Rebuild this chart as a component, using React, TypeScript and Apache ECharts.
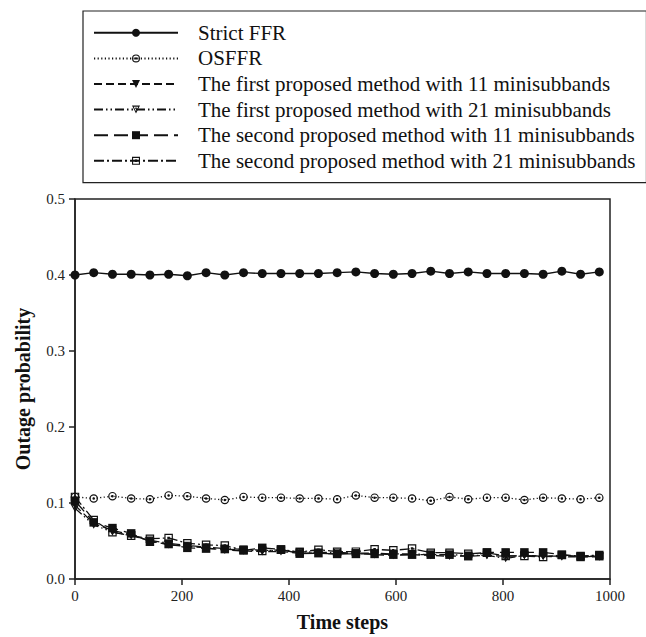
import React, { useEffect, useRef } from "react";
import * as echarts from "echarts";

const timeSteps = [0, 35, 70, 105, 140, 175, 210, 245, 280, 315, 350, 385, 420, 455, 490, 525, 560, 595, 630, 665, 700, 735, 770, 805, 840, 875, 910, 945, 980];

const strictFFR = [0.400, 0.403, 0.401, 0.401, 0.400, 0.401, 0.399, 0.403, 0.400, 0.403, 0.402, 0.402, 0.402, 0.402, 0.403, 0.404, 0.402, 0.401, 0.402, 0.405, 0.402, 0.404, 0.402, 0.402, 0.402, 0.401, 0.405, 0.401, 0.404];
const osffr = [0.108, 0.106, 0.109, 0.106, 0.105, 0.110, 0.109, 0.106, 0.104, 0.108, 0.107, 0.107, 0.106, 0.106, 0.105, 0.110, 0.107, 0.107, 0.106, 0.103, 0.108, 0.105, 0.107, 0.107, 0.104, 0.107, 0.106, 0.105, 0.107];
const first11 = [0.097, 0.073, 0.064, 0.058, 0.050, 0.045, 0.043, 0.041, 0.038, 0.037, 0.036, 0.036, 0.034, 0.034, 0.033, 0.034, 0.032, 0.031, 0.032, 0.031, 0.030, 0.030, 0.031, 0.030, 0.031, 0.030, 0.029, 0.029, 0.029];
const first21 = [0.093, 0.071, 0.062, 0.057, 0.051, 0.047, 0.044, 0.042, 0.040, 0.039, 0.038, 0.037, 0.036, 0.035, 0.035, 0.034, 0.034, 0.033, 0.033, 0.032, 0.032, 0.031, 0.031, 0.027, 0.031, 0.030, 0.030, 0.030, 0.030];
const second11 = [0.103, 0.0745, 0.067, 0.060, 0.049, 0.046, 0.041, 0.040, 0.0394, 0.0377, 0.041, 0.039, 0.0333, 0.034, 0.033, 0.033, 0.033, 0.032, 0.032, 0.032, 0.032, 0.030, 0.035, 0.035, 0.035, 0.035, 0.032, 0.029, 0.030];
const second21 = [0.108, 0.0775, 0.0615, 0.057, 0.053, 0.054, 0.047, 0.045, 0.044, 0.038, 0.037, 0.0385, 0.0355, 0.0385, 0.036, 0.036, 0.039, 0.0377, 0.040, 0.0346, 0.0346, 0.0333, 0.0346, 0.0303, 0.0303, 0.029, 0.0316, 0.0303, 0.0316];

const seriesNames = [
  "Strict FFR",
  "OSFFR",
  "The first proposed method with 11 minisubbands",
  "The first proposed method with 21 minisubbands",
  "The second proposed method with 11 minisubbands",
  "The second proposed method with 21 minisubbands",
];

const yTicks = [0, 0.1, 0.2, 0.3, 0.4, 0.5];
const xTicks = [0, 200, 400, 600, 800, 1000];

const FONT = "'Liberation Serif', 'Times New Roman', serif";

const SYM_DOT_CIRCLE =
  "path://M0,-10A10,10,0,1,1,0,10A10,10,0,1,1,0,-10ZM0,-7.2A7.2,7.2,0,1,0,0,7.2A7.2,7.2,0,1,0,0,-7.2ZM0,-3A3,3,0,1,1,0,3A3,3,0,1,1,0,-3Z";
const SYM_DOT_SQUARE =
  "path://M-10,-10L10,-10L10,10L-10,10ZM-7.2,-7.2L-7.2,7.2L7.2,7.2L7.2,-7.2ZM-3,-3L3,-3L3,3L-3,3Z";
const SYM_DOT_TRI =
  "path://M-10,-8L10,-8L0,10ZM-5.6,-5.6L0,4.6L5.6,-5.6ZM-1.8,-3.8L1.8,-3.8L1.8,-0.2L-1.8,-0.2Z";
const SYM_TRI = "path://M-10,-8L10,-8L0,10Z";

export default function App() {
  const ref = useRef<HTMLDivElement>(null);
  useEffect(() => {
    if (!ref.current) return;
    const chart = echarts.init(ref.current, undefined, { renderer: "svg" });
    const mk = (vals: number[]) => timeSteps.map((t, i) => [t, vals[i]]);
    const styles = [
      { data: strictFFR, symbol: "circle", size: 9, dash: "solid" as any },
      { data: osffr, symbol: SYM_DOT_CIRCLE, size: 8.5, dash: [1.2, 2.4] },
      { data: first11, symbol: SYM_TRI, size: 8.5, dash: [8, 4] },
      { data: first21, symbol: SYM_DOT_TRI, size: 8.5, dash: [9, 3, 1.5, 3, 1.5, 3] },
      { data: second11, symbol: "rect", size: 8.5, dash: [14, 6] },
      { data: second21, symbol: SYM_DOT_SQUARE, size: 8.5, dash: [10, 3, 2, 3] },
    ];
    chart.setOption({
      animation: false,
      backgroundColor: "#fff",
      legend: {
        orient: "vertical",
        left: 83,
        top: 11,
        padding: [9, 11, 9, 10],
        itemGap: 0,
        itemWidth: 84,
        itemHeight: 10,
        borderColor: "#222",
        borderWidth: 1.2,
        borderRadius: 0,
        textStyle: {
          fontFamily: FONT,
          fontSize: 21,
          color: "#111",
          lineHeight: 25.6,
          padding: [0, 0, 0, 15],
        },
        data: seriesNames,
      },
      grid: {
        left: 75,
        right: 36,
        top: 199,
        bottom: 53,
        show: true,
        borderColor: "#222",
        borderWidth: 1.5,
      },
      xAxis: {
        type: "value",
        min: xTicks[0],
        max: xTicks[xTicks.length - 1],
        interval: 200,
        name: "Time steps",
        nameLocation: "middle",
        nameGap: 33,
        nameTextStyle: { fontFamily: FONT, fontSize: 20, fontWeight: "bold", color: "#111" },
        axisLine: { lineStyle: { color: "#222", width: 1.5 } },
        axisTick: { length: 6, lineStyle: { color: "#222", width: 1.5 } },
        axisLabel: {
          fontFamily: FONT,
          fontSize: 15,
          color: "#222",
          margin: 9,
          formatter: (v: number) => String(v),
        },
        splitLine: { show: false },
      },
      yAxis: {
        type: "value",
        min: yTicks[0],
        max: yTicks[yTicks.length - 1],
        interval: 0.1,
        name: "Outage probability",
        nameLocation: "middle",
        nameGap: 42,
        nameTextStyle: { fontFamily: FONT, fontSize: 20, fontWeight: "bold", color: "#111" },
        axisLine: { lineStyle: { color: "#222", width: 1.5 } },
        axisTick: { length: 6, lineStyle: { color: "#222", width: 1.5 } },
        axisLabel: {
          fontFamily: FONT,
          fontSize: 15,
          color: "#222",
          margin: 10,
          formatter: (v: number) => v.toFixed(1),
        },
        splitLine: { show: false },
      },
      series: styles.map((s, i) => ({
        name: seriesNames[i],
        type: "line",
        data: mk(s.data),
        symbol: s.symbol,
        symbolSize: s.size,
        symbolKeepAspect: true,
        showSymbol: true,
        lineStyle: { color: "#111", width: 1.3, type: s.dash },
        itemStyle: { color: "#111", borderWidth: 0 },
        emphasis: { disabled: true },
        z: 2 + i,
      })),
    });
    return () => chart.dispose();
  }, []);
  return (
    <div
      ref={ref}
      style={{ position: "fixed", left: 0, top: 0, width: 646, height: 637, background: "#fff" }}
    />
  );
}
